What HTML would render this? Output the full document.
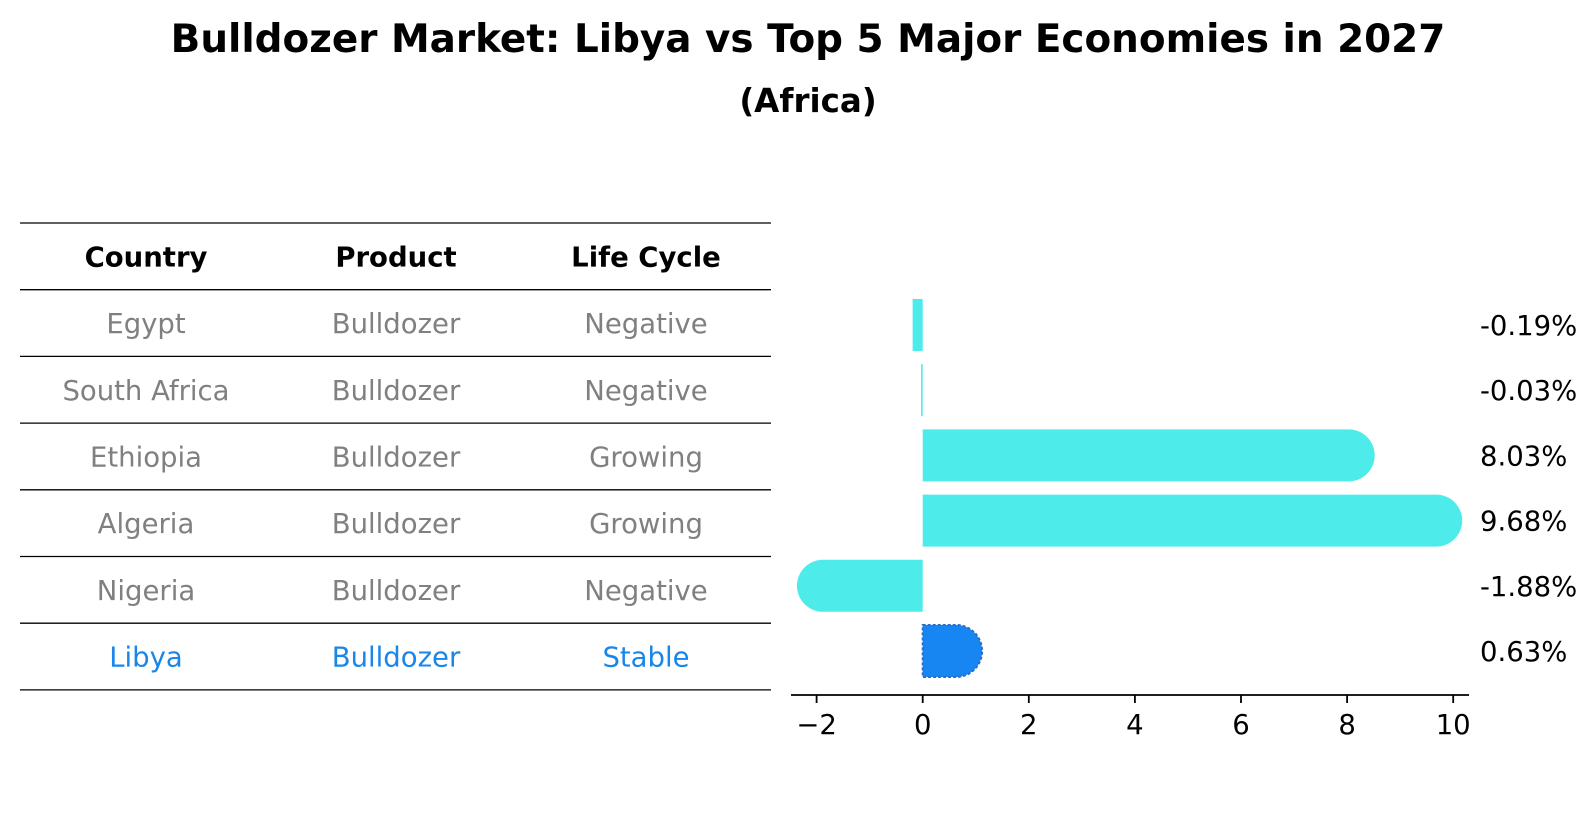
<!DOCTYPE html>
<html><head><meta charset="utf-8"><style>
body{margin:0;background:#fff;}
svg{display:block;font-family:"DejaVu Sans","Liberation Sans",sans-serif;}
</style></head><body>
<svg id="chart" width="1596" height="823" viewBox="0 0 1596 823">
<text x="808" y="52" text-anchor="middle" font-size="38.9" font-weight="bold">Bulldozer Market: Libya vs Top 5 Major Economies in 2027</text>
<text x="808" y="112" text-anchor="middle" font-size="32.5" font-weight="bold">(Africa)</text>
<g id="table"></g>
<g id="bars"></g>
</svg>
<script>
const countries = ["Egypt","South Africa","Ethiopia","Algeria","Nigeria","Libya"];
const products = ["Bulldozer","Bulldozer","Bulldozer","Bulldozer","Bulldozer","Bulldozer"];
const lifeCycles = ["Negative","Negative","Growing","Growing","Negative","Stable"];
const values = [-0.19,-0.03,8.03,9.68,-1.88,0.63];
const xTicks = [-2,0,2,4,6,8,10];
const headers = ["Country","Product","Life Cycle"];

const NS="http://www.w3.org/2000/svg";
function mk(tag, attrs, parent){const e=document.createElementNS(NS,tag);for(const k in attrs)e.setAttribute(k,attrs[k]);parent.appendChild(e);return e;}
const table=document.getElementById('table');
const bars=document.getElementById('bars');

// table
const ruleTop=223, rowH=66.7, colX=[146,396,646];
for(let i=0;i<=countries.length+1;i++){
  const l=mk('line',{x1:20,x2:771,y1:ruleTop+i*rowH,y2:ruleTop+i*rowH,stroke:'#000','stroke-width':1.3},table);
  
  
}
headers.forEach((h,j)=>{
  const t=mk('text',{x:colX[j],y:ruleTop+rowH/2+10,'text-anchor':'middle','font-size':27.5,'font-weight':'bold'},table);
  t.textContent=h;
  
  
});
countries.forEach((c,i)=>{
  const cols=[c,products[i],lifeCycles[i]];
  const color=c==="Libya"?"#1a87e8":"#808080";
  cols.forEach((v,j)=>{
    const t=mk('text',{x:colX[j],y:ruleTop+(i+1)*rowH+rowH/2+10,'text-anchor':'middle','font-size':27.5,fill:color},table);
    t.textContent=v;
    
    
  });
});

// bar chart
const x0=922.7, ppu=53.05;
const xs=v=>x0+v*ppu;
const y0=325, pitch=65.2, bh=52, axisY=695;
const ys=i=>y0+i*pitch;
values.forEach((v,i)=>{
  const isL=countries[i]==="Libya";
  const fill=isL?"#1785f2":"#4debea";
  const cy=ys(i), top=cy-bh/2, r=bh/2;
  const xe=xs(v), xb=xs(0);
  let d;
  if(Math.abs(v)>0.5){
    const s=v>0?1:-1;
    d=`M${xb},${top} L${xe},${top} A${r},${r} 0 0 ${s>0?1:0} ${xe},${top+bh} L${xb},${top+bh} Z`;
  } else {
    const a=Math.min(xb,xe), w=Math.max(Math.abs(xe-xb),1);
    d=`M${a},${top} h${w} v${bh} h${-w} Z`;
  }
  const p=mk('path',{d:d,fill:fill},bars);
  if(isL){p.setAttribute('stroke','#2a6fc9');p.setAttribute('stroke-width','2');p.setAttribute('stroke-dasharray','3,2');}
  
  
  const t=mk('text',{x:1480,y:cy+10,'font-size':27.5,fill:'#000'},bars);
  t.textContent=v.toFixed(2)+'%';
  
  
});
const ax=mk('line',{x1:791,x2:1469,y1:axisY,y2:axisY,stroke:'#000','stroke-width':1.8},bars);


xTicks.forEach(v=>{
  const tl=mk('line',{x1:xs(v),x2:xs(v),y1:axisY,y2:axisY+8,stroke:'#000','stroke-width':1.8},bars);
  
  
  const t=mk('text',{x:xs(v),y:axisY+39,'text-anchor':'middle','font-size':27.5},bars);
  t.textContent=(v<0?'\u2212'+Math.abs(v):String(v));
  
  
});
</script>
</body></html>
